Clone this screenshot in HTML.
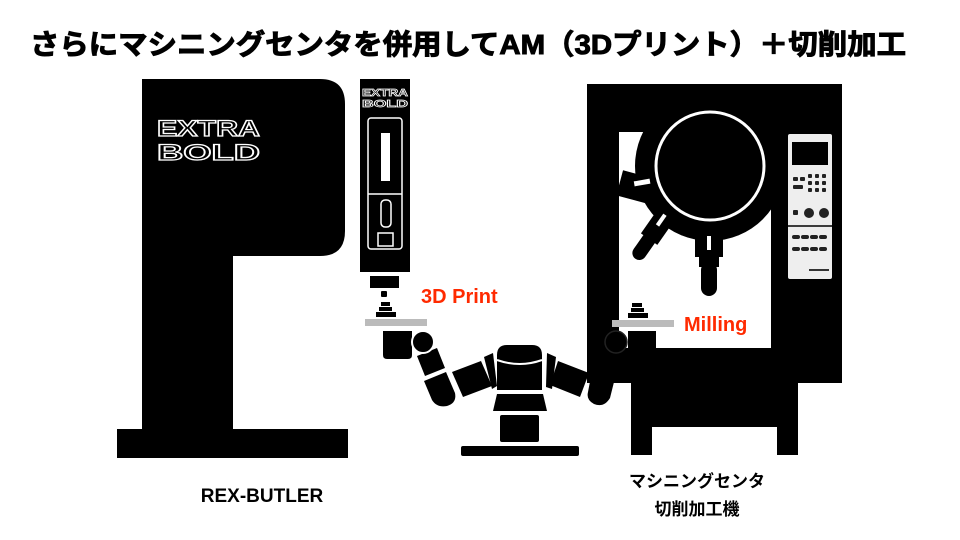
<!DOCTYPE html>
<html><head><meta charset="utf-8"><style>
html,body{margin:0;padding:0;background:#fff;}
svg{display:block;}
text{font-family:"Liberation Sans","Noto Sans CJK JP",sans-serif;font-weight:bold;}
</style></head><body>
<svg width="960" height="540" viewBox="0 0 960 540" xmlns="http://www.w3.org/2000/svg">
<text x="30" y="54" font-size="28" textLength="876" lengthAdjust="spacingAndGlyphs" fill="#000" stroke="#000" stroke-width="1">さらにマシニングセンタを併用してAM（3Dプリント）＋切削加工</text>

<path d="M142 79 H320 Q345 79 345 104 V231 Q345 256 320 256 H233 V430 H142 Z" fill="#000"/>
<rect x="117" y="429" width="231" height="29" fill="#000"/>
<text x="157" y="136" font-size="22" fill="none" stroke="#fff" stroke-width="1.2" font-weight="normal" textLength="103" lengthAdjust="spacingAndGlyphs">EXTRA</text>
<text x="157" y="160" font-size="22" fill="none" stroke="#fff" stroke-width="1.2" font-weight="normal" textLength="103" lengthAdjust="spacingAndGlyphs">BOLD</text>
<text x="262" y="502" font-size="19" text-anchor="middle" fill="#000">REX-BUTLER</text>

<rect x="360" y="79" width="50" height="193" fill="#000"/>
<text x="362" y="96" font-size="10" fill="none" stroke="#fff" stroke-width="0.7" font-weight="normal" textLength="46" lengthAdjust="spacingAndGlyphs">EXTRA</text>
<text x="362" y="107" font-size="10" fill="none" stroke="#fff" stroke-width="0.7" font-weight="normal" textLength="46" lengthAdjust="spacingAndGlyphs">BOLD</text>
<rect x="368" y="118" width="34" height="131" rx="3" fill="none" stroke="#fff" stroke-width="1.5"/>
<line x1="368" y1="194" x2="402" y2="194" stroke="#fff" stroke-width="1.5"/>
<rect x="381" y="133" width="9" height="48" fill="#fff"/>
<rect x="381" y="200" width="10" height="27" rx="4" fill="none" stroke="#fff" stroke-width="1.5"/>
<rect x="378" y="233" width="15" height="13" fill="none" stroke="#fff" stroke-width="1.5"/>
<rect x="370" y="276" width="29" height="12" fill="#000"/>
<rect x="381" y="291" width="6" height="6" rx="1" fill="#000"/>
<rect x="381" y="302" width="9" height="4" fill="#000"/>
<rect x="379" y="307" width="13" height="4" fill="#000"/>
<rect x="376" y="312" width="20" height="5" fill="#000"/>
<rect x="365" y="319" width="62" height="7" fill="#bbb"/>
<text x="421" y="303" font-size="20" fill="#ff2a00">3D Print</text>

<rect x="587" y="84" width="255" height="299" fill="#000"/>
<rect x="631" y="383" width="167" height="72" fill="#000"/>
<rect x="652" y="427" width="125" height="28" fill="#fff"/>
<rect x="619" y="132" width="152" height="216" fill="#fff"/>
<circle cx="710" cy="166" r="75" fill="#000"/>
<rect x="619" y="175" width="40" height="26" fill="#000" transform="rotate(15 639 188)"/>
<rect x="634" y="180" width="16" height="5" fill="#fff" transform="rotate(-10 642 182)"/>
<circle cx="710" cy="166" r="54" fill="#000" stroke="#fff" stroke-width="3"/>
<g transform="rotate(35 652 235)">
<rect x="642" y="208" width="20" height="32" fill="#000"/>
<rect x="645" y="230" width="14" height="34" rx="7" fill="#000"/>
<rect x="649" y="211" width="4" height="13" fill="#fff"/>
</g>
<rect x="695" y="235" width="28" height="22" fill="#000"/>
<rect x="699" y="255" width="20" height="12" fill="#000"/>
<rect x="701" y="262" width="16" height="34" rx="8" fill="#000"/>
<rect x="707" y="236" width="4" height="14" fill="#fff"/>
<rect x="632" y="303" width="10" height="4" fill="#000"/>
<rect x="631" y="308" width="13" height="4" fill="#000"/>
<rect x="628" y="313" width="20" height="5" fill="#000"/>
<rect x="612" y="320" width="62" height="7" fill="#bbb"/>
<text x="684" y="331" font-size="20" fill="#ff2a00">Milling</text>
<rect x="788" y="134" width="44" height="99" rx="2" fill="#eee"/>
<rect x="792" y="142" width="36" height="23" fill="#000"/>
<g fill="#222">
<rect x="793" y="177" width="5" height="4" rx="1"/><rect x="800" y="177" width="5" height="4" rx="1"/>
<rect x="808" y="174" width="4" height="4" rx="1"/><rect x="815" y="174" width="4" height="4" rx="1"/><rect x="822" y="174" width="4" height="4" rx="1"/>
<rect x="808" y="181" width="4" height="4" rx="1"/><rect x="815" y="181" width="4" height="4" rx="1"/><rect x="822" y="181" width="4" height="4" rx="1"/>
<rect x="808" y="188" width="4" height="4" rx="1"/><rect x="815" y="188" width="4" height="4" rx="1"/><rect x="822" y="188" width="4" height="4" rx="1"/>
<rect x="793" y="185" width="10" height="4" rx="1"/>
<rect x="793" y="210" width="5" height="5" rx="1"/>
<circle cx="809" cy="213" r="5"/><circle cx="824" cy="213" r="5"/>
</g>
<rect x="788" y="226" width="44" height="53" rx="2" fill="#eee"/>
<line x1="788" y1="226" x2="832" y2="226" stroke="#000" stroke-width="1.5"/>
<g fill="#222">
<rect x="792" y="235" width="8" height="4" rx="2"/><rect x="801" y="235" width="8" height="4" rx="2"/><rect x="810" y="235" width="8" height="4" rx="2"/><rect x="819" y="235" width="8" height="4" rx="2"/>
<rect x="792" y="247" width="8" height="4" rx="2"/><rect x="801" y="247" width="8" height="4" rx="2"/><rect x="810" y="247" width="8" height="4" rx="2"/><rect x="819" y="247" width="8" height="4" rx="2"/>
</g>
<rect x="806" y="266" width="26" height="8" rx="1" fill="#eee"/>
<rect x="809" y="269" width="20" height="2" fill="#333"/>

<path d="M383 331 H412 V355 Q412 359 408 359 H387 Q383 359 383 355 Z" fill="#000"/>
<path d="M417 356 L437 348 L445 368 L425 376 Z" fill="#000"/>
<path d="M424 381 L446 372 L455 393 Q457 403 447 406 Q437 408 432 400 Z" fill="#000"/>
<path d="M452 372 L481 361 L492 386 L463 397 Z" fill="#000"/>
<path d="M484 357 L493 353 L497 386 L492 389 Z" fill="#000"/>
<circle cx="423" cy="342" r="11" fill="#000" stroke="#fff" stroke-width="2"/>
<path d="M497 355 Q497 345 507 345 H532 Q542 345 542 355 V390 H497 Z" fill="#000"/>
<path d="M497 360 Q520 368 542 360" stroke="#fff" stroke-width="2" fill="none"/>
<path d="M497 394 H543 L547 411 H493 Z" fill="#000"/>
<rect x="500" y="415" width="39" height="27" rx="2" fill="#000"/>
<rect x="461" y="446" width="118" height="10" rx="2" fill="#000"/>
<path d="M547 353 L556 357 L552 389 L546 387 Z" fill="#000"/>
<path d="M558 361 L589 373 L580 397 L550 385 Z" fill="#000"/>
<path d="M592 371 L615 378 L610 398 Q604 408 594 404 Q586 400 588 392 Z" fill="#000"/>
<path d="M598 352 L618 358 L614 376 L594 370 Z" fill="#000"/>
<circle cx="616" cy="342" r="11" fill="#000" stroke="#222" stroke-width="1.5"/>
<path d="M628 331 H656 V354 Q656 357 652 357 H628 Z" fill="#000"/>

<text x="697" y="487" font-size="17" text-anchor="middle" fill="#000">マシニングセンタ</text>
<text x="697" y="515" font-size="17" text-anchor="middle" fill="#000">切削加工機</text>
</svg>
</body></html>
